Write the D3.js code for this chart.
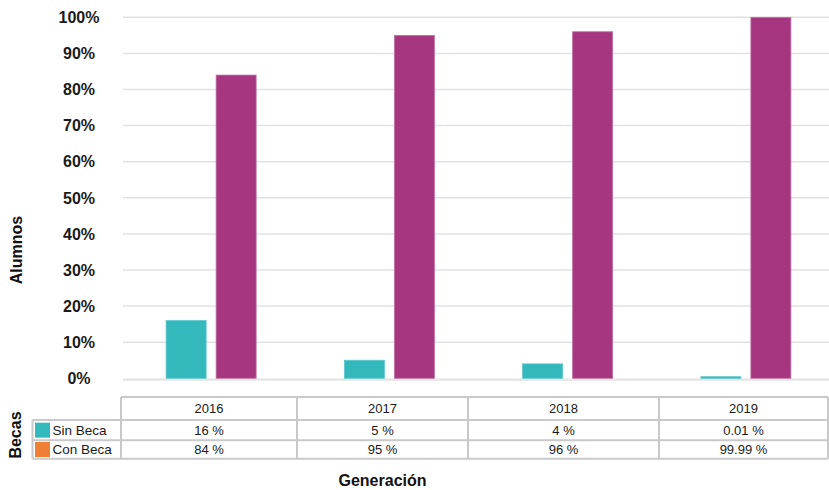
<!DOCTYPE html>
<html><head><meta charset="utf-8">
<script src="https://cdn.jsdelivr.net/npm/d3@7"></script>
<style>
html,body{margin:0;padding:0;background:#fff;}
svg text{font-family:"Liberation Sans",Arial,Helvetica,sans-serif;}
</style></head>
<body><svg id="c" width="829" height="490"></svg>
<script>
const years = ["2016","2017","2018","2019"];
const seriesNames = ["Sin Beca","Con Beca"];
const sinBeca = [16, 5, 4, 0.01];
const conBeca = [84, 95, 96, 99.99];
const sinBecaLabels = ["16 %","5 %","4 %","0.01 %"];
const conBecaLabels = ["84 %","95 %","96 %","99.99 %"];
const yTicks = [0,10,20,30,40,50,60,70,80,90,100];
const barColors = ["#33b8bc","#a6367f"];
const legendColors = ["#33b8bc","#ee7f35"];

const svg = d3.select("#c");
const y = d3.scaleLinear().domain([0,100]).range([378.3,17.3]);
const x0 = d3.scaleBand().domain(years).range([122,835]).paddingInner(0.495).paddingOuter(0.2475);
const x1 = d3.scaleBand().domain(seriesNames).range([0,x0.bandwidth()]).paddingInner(0.2);

// gridlines
svg.append("g").selectAll("line").data(yTicks.filter(d=>d>0)).join("line")
  .attr("x1",123).attr("x2",829).attr("y1",d=>y(d)).attr("y2",d=>y(d))
  .attr("stroke","#e2e2e2").attr("stroke-width",1.5);
svg.append("line").attr("x1",123).attr("x2",829).attr("y1",y(0)+1.3).attr("y2",y(0)+1.3)
  .attr("stroke","#e4e4e4").attr("stroke-width",2.2);

// tick labels
svg.append("g").selectAll("text").data(yTicks).join("text")
  .attr("x",79).attr("y",d=>y(d)).attr("dy","0.36em").attr("text-anchor","middle")
  .attr("font-size",16).attr("font-weight","bold").attr("fill","#1a1a1a")
  .text(d=>d+"%");

// bars
const rows = years.map((yr,i)=>({year:yr, vals:[sinBeca[i],conBeca[i]]}));
const g = svg.append("g").selectAll("g").data(rows).join("g")
  .attr("transform",d=>`translate(${x0(d.year)},0)`);
g.selectAll("rect").data(d=>d.vals.map((v,j)=>({s:seriesNames[j],v,j}))).join("rect")
  .attr("x",d=>x1(d.s)).attr("width",x1.bandwidth())
  .attr("y",d=>Math.min(y(d.v), y(0)-1.6))
  .attr("height",d=>Math.max(y(0)-y(d.v),1.6))
  .attr("fill",d=>barColors[d.j])
  .attr("stroke",d=>d.j===0?"#5cc8cb":"#c070a4").attr("stroke-width",0.8);

// axis titles
svg.append("text").attr("transform","translate(22,250) rotate(-90)").attr("text-anchor","middle")
  .attr("font-size",16).attr("font-weight","bold").attr("fill","#111").text("Alumnos");
svg.append("text").attr("transform","translate(20.5,435) rotate(-90)").attr("text-anchor","middle")
  .attr("font-size",16).attr("font-weight","bold").attr("fill","#111").text("Becas");
svg.append("text").attr("x",382.5).attr("y",486).attr("text-anchor","middle")
  .attr("font-size",16).attr("font-weight","bold").attr("fill","#111").text("Generación");

// data table
const colEdges = [121,297,468,659,828];
const rowEdges = [397,420,440.3,458.7];
const legLeft = 32.5;
const t = svg.append("g");
const bc = "#c9c9c9", bw = 2;
t.append("line").attr("x1",colEdges[0]).attr("x2",colEdges[4]).attr("y1",rowEdges[0]).attr("y2",rowEdges[0]).attr("stroke",bc).attr("stroke-width",bw);
[1,2,3].forEach(r=>t.append("line").attr("x1",legLeft).attr("x2",colEdges[4]).attr("y1",rowEdges[r]).attr("y2",rowEdges[r]).attr("stroke",bc).attr("stroke-width",bw));
t.append("line").attr("x1",legLeft).attr("x2",legLeft).attr("y1",rowEdges[1]).attr("y2",rowEdges[3]).attr("stroke",bc).attr("stroke-width",bw);
colEdges.forEach(cx=>t.append("line").attr("x1",cx).attr("x2",cx).attr("y1",rowEdges[0]).attr("y2",rowEdges[3]).attr("stroke",bc).attr("stroke-width",bw));

const rowCenters = [0,1,2].map(r=>(rowEdges[r]+rowEdges[r+1])/2);
years.forEach((yr,i)=>{
  const cx = (colEdges[i]+colEdges[i+1])/2;
  [yr, sinBecaLabels[i], conBecaLabels[i]].forEach((txt,r)=>{
    t.append("text").attr("x",cx).attr("y",rowCenters[r]).attr("dy","0.36em").attr("text-anchor","middle")
      .attr("font-size",13).attr("fill","#1a1a1a").text(txt);
  });
});
seriesNames.forEach((s,j)=>{
  const cy = rowCenters[j+1];
  t.append("rect").attr("x",35).attr("y",cy-7.5).attr("width",15).attr("height",15).attr("fill",legendColors[j]);
  t.append("text").attr("x",52.5).attr("y",cy).attr("dy","0.36em").attr("font-size",13.5).attr("fill","#1a1a1a").text(s);
});
</script></body></html>
